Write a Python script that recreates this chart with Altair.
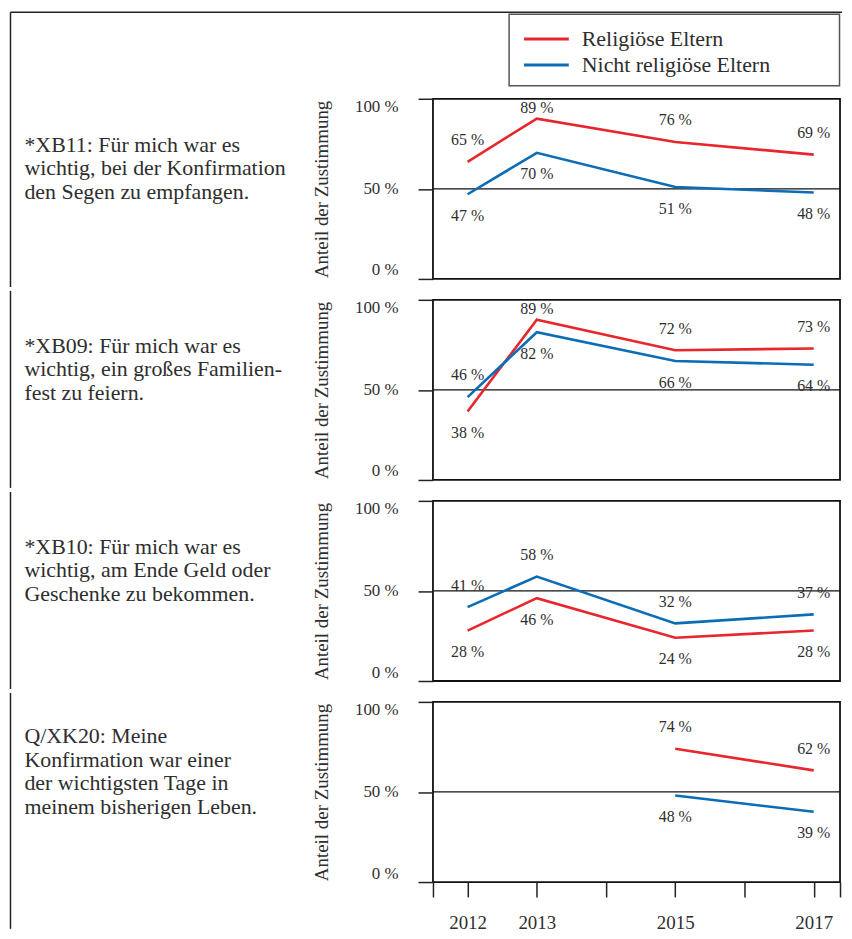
import altair as alt
import pandas as pd

# ---------------- data ----------------
years = [2012, 2013, 2015, 2017]
groups = ["Religiöse Eltern", "Nicht religiöse Eltern"]
colors = ["#e8262d", "#0a6db6"]

text_xb11 = ["*XB11: Für mich war es", "wichtig, bei der Konfirmation", "den Segen zu empfangen."]
rel_xb11 = [65, 89, 76, 69]
non_xb11 = [47, 70, 51, 48]
rel_side_xb11 = [1, 1, 1, 1]
non_side_xb11 = [-1, -1, -1, -1]

text_xb09 = ["*XB09: Für mich war es", "wichtig, ein großes Familien-", "fest zu feiern."]
rel_xb09 = [38, 89, 72, 73]
non_xb09 = [46, 82, 66, 64]
rel_side_xb09 = [-1, 1, 1, 1]
non_side_xb09 = [1, -1, -1, -1]

text_xb10 = ["*XB10: Für mich war es", "wichtig, am Ende Geld oder", "Geschenke zu bekommen."]
rel_xb10 = [28, 46, 24, 28]
non_xb10 = [41, 58, 32, 37]
rel_side_xb10 = [-1, -1, -1, -1]
non_side_xb10 = [1, 1, 1, 1]

text_xk20 = ["Q/XK20: Meine", "Konfirmation war einer", "der wichtigsten Tage in", "meinem bisherigen Leben."]
rel_xk20 = [None, None, 74, 62]
non_xk20 = [None, None, 48, 39]
rel_side_xk20 = [1, 1, 1, 1]
non_side_xk20 = [-1, -1, -1, -1]

x_domain = [2011.5, 2017.38]
tick_years = [x_domain[0], 2012, 2013, 2014, 2015, 2016, 2017, x_domain[1]]
label_years = [2012, 2013, 2015, 2017]
y_ticks = [0, 50, 100]
y_title = "Anteil der Zustimmung"

panels = [
    (text_xb11, rel_xb11, non_xb11, rel_side_xb11, non_side_xb11),
    (text_xb09, rel_xb09, non_xb09, rel_side_xb09, non_side_xb09),
    (text_xb10, rel_xb10, non_xb10, rel_side_xb10, non_side_xb10),
    (text_xk20, rel_xk20, non_xk20, rel_side_xk20, non_side_xk20),
]

# ---------------- style ----------------
F = "Liberation Serif"
TXT = "#2e2e2e"
W, H = 409, 181
LINE_H = 24

xs = alt.Scale(domain=x_domain, nice=False, zero=False)
ys = alt.Scale(domain=[0, 100], nice=False)

yaxis = alt.Axis(
    values=y_ticks, labelExpr="datum.value + ' %'", labelFlush=True, labelOverlap=False,
    tickSize=15, tickWidth=1.5, tickColor="#222", labelPadding=20, labelFont=F,
    labelFontSize=17, labelColor=TXT, domain=False, grid=False, title=y_title,
    titleFont=F, titleFontSize=19, titleFontWeight="normal", titleColor=TXT, titlePadding=23,
)
label_test = " || ".join("datum.value == %d" % y for y in label_years)
xaxis = alt.Axis(
    values=tick_years,
    labelExpr="(" + label_test + ") ? format(datum.value, 'd') : ''",
    tickSize=15, tickWidth=1.5, tickColor="#222", labelPadding=17, labelFont=F,
    labelFontSize=19, labelColor=TXT, domain=False, grid=False, labelOverlap=False,
    labelFlush=False, labelBound=False, title="",
)

legend = alt.Legend(
    orient="none", legendX=76.5, legendY=-84, title=None,
    symbolType="M-1,0H4", symbolSize=324, symbolStrokeWidth=3,
    labelFont=F, labelFontSize=22, labelColor=TXT,
    labelOffset=38, padding=13, rowPadding=4, labelLimit=500,
)
color = alt.Color("group:N", scale=alt.Scale(domain=groups, range=colors), legend=legend)


def panel(idx, spec):
    text, rel, non, rs, ns = spec
    rows = []
    for g, vals, sides in ((groups[0], rel, rs), (groups[1], non, ns)):
        for yr, v, s in zip(years, vals, sides):
            if v is not None:
                rows.append({"year": yr, "group": g, "value": v, "side": s})
    df = pd.DataFrame(rows)
    last = idx == len(panels) - 1

    def X():
        if last:
            return alt.X("year:Q", scale=xs, axis=xaxis)
        return alt.X("year:Q", scale=xs, axis=None)

    def Y(field):
        return alt.Y(field, scale=ys, axis=yaxis)

    rule50 = alt.Chart(df).transform_aggregate(n="count()").transform_calculate(
        v="50"
    ).mark_rule(color="#111", strokeWidth=1.2).encode(y=Y("v:Q"))
    lines = alt.Chart(df).mark_line(strokeWidth=2.6).encode(
        x=X(), y=Y("value:Q"), color=color, detail="group:N",
    )
    labels = alt.Chart(df).transform_calculate(
        label="datum.value + ' %'",
        ly="clamp(datum.value + datum.side * 12, 4, 95)",
    ).mark_text(font=F, fontSize=16, color=TXT, baseline="middle", align="center").encode(
        x=X(), y=Y("ly:Q"), text="label:N"
    )
    note = alt.Chart(pd.DataFrame({"k": [0]})).mark_text(
        text=text, align="left", baseline="middle", font=F, fontSize=22,
        lineHeight=LINE_H, color=TXT,
    ).encode(x=alt.value(-410.5), y=alt.value(70 - (len(text) - 1) * LINE_H / 2))

    top = -87 if idx == 0 else -9
    bottom = 228 if last else 189
    frame_v = alt.Chart(pd.DataFrame({"k": [0]})).mark_rule(color="#222", strokeWidth=1.5).encode(
        x=alt.value(-424.5), y=alt.value(top), y2=alt.value(bottom)
    )
    layers = [rule50, lines, labels, note, frame_v]
    if idx == 0:
        frame_h = alt.Chart(pd.DataFrame({"k": [0]})).mark_rule(color="#222", strokeWidth=1.5).encode(
            x=alt.value(-424.5), x2=alt.value(W + 2), y=alt.value(-87)
        )
        legend_box = alt.Chart(pd.DataFrame({"k": [0]})).mark_rect(
            fill="white", fillOpacity=0, stroke="#555", strokeWidth=1.5
        ).encode(x=alt.value(76.5), x2=alt.value(408.5), y=alt.value(-85), y2=alt.value(-13))
        layers += [frame_h, legend_box]
    return alt.layer(*layers).properties(width=W, height=H)


chart = alt.vconcat(*[panel(i, p) for i, p in enumerate(panels)], spacing=0).properties(
    padding=0, background="white"
).configure_view(stroke="#111", strokeWidth=1.8)

chart.save("out.html", embed_options={"renderer": "svg", "actions": False})
